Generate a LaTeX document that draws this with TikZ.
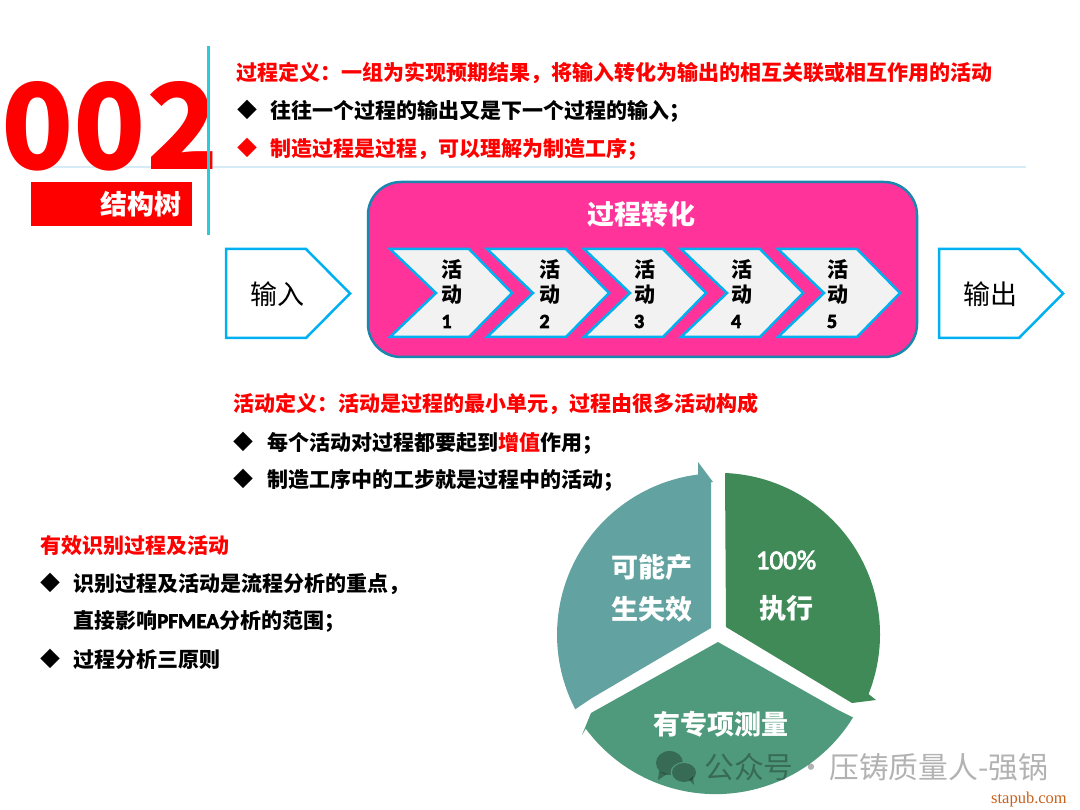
\documentclass[tikz,border=0pt]{standalone}
\usepackage{fontspec}
\usepackage{xcolor}
\setmainfont{Noto Sans CJK SC}
\newfontfamily\latinfont[FakeBold=3]{Carlito}
\newfontfamily\sitefont{Liberation Serif}
\usetikzlibrary{calc}
\definecolor{chevronblue}{RGB}{0, 176, 240}
\definecolor{boxpink}{RGB}{255, 51, 153}
\definecolor{boxedge}{RGB}{27, 135, 174}
\definecolor{barcyan}{RGB}{44, 203, 216}
\definecolor{ruleblue}{RGB}{214, 235, 245}
\definecolor{pieleft}{RGB}{98, 162, 160}
\definecolor{pieright}{RGB}{63, 138, 86}
\definecolor{piebottom}{RGB}{79, 154, 124}
\definecolor{siteorange}{RGB}{200, 96, 26}
\tikzset{
  headline/.style={anchor=west, inner sep=0pt, text=red, font=\bfseries\fontsize{21}{25}\selectfont},
  bodyline/.style={anchor=west, inner sep=0pt, text=black, font=\bfseries\fontsize{21}{25}\selectfont},
  bullet/.style={inner sep=0pt, font=\fontsize{20}{24}\selectfont},
  piece/.style={draw=chevronblue, line width=2.5pt, miter limit=6},
  pietext/.style={inner sep=0pt, text=white, font=\bfseries\fontsize{27}{32}\selectfont},
  activity/.style={align=left, inner sep=0pt, font=\bfseries\fontsize{21}{25}\selectfont},
  flowtext/.style={inner sep=0pt, font=\fontsize{27}{32}\selectfont}
}

\begin{document}
\begin{tikzpicture}[x=1pt, y=-1pt]
  \useasboundingbox (0,0) rectangle (1080,810);

  % left title block
  \draw[ruleblue, line width=2pt] (40,167.5) -- (1026,167.5);
  \node[inner sep=0pt, text=red, font=\bfseries\fontsize{119}{119}\selectfont] (number) at (110,126.5) {002};
  \fill[red] (31,182) rectangle (192,226);
  \node[inner sep=0pt, text=white, font=\bfseries\fontsize{27}{32}\selectfont] (tree) at (140.5,204) {结构树};
  \draw[barcyan, line width=3pt] (208.5,46) -- (208.5,235);

  % process definition
  \node[headline] (procdef) at (236,73) {过程定义：一组为实现预期结果，将输入转化为输出的相互关联或相互作用的活动};
  \node[bullet] (bulleta) at (247,110) {◆};
  \node[bodyline] (procone) at (270,111) {往往一个过程的输出又是下一个过程的输入；};
  \node[bullet, text=red] (bulletb) at (247,148) {◆};
  \node[bodyline, text=red] (proctwo) at (270,149) {制造过程是过程，可以理解为制造工序；};

  % flow in the middle
  \draw[boxedge, fill=boxpink, line width=2.5pt, rounded corners=33pt] (368,182) rectangle (917,357);
  \node[inner sep=0pt, text=white, font=\bfseries\fontsize{27}{32}\selectfont] (transform) at (641.5,214) {过程转化};
  \draw[piece, fill=white] (226,249) -- (306,249) -- (350,293.5) -- (306,338) -- (226,338) -- cycle;
  \node[flowtext] (input) at (277,294) {输入};
  \draw[piece, fill=white] (939,249) -- (1019,249) -- (1063,293.5) -- (1019,338) -- (939,338) -- cycle;
  \node[flowtext] (output) at (990,294) {输出};
  \foreach \n/\cx/\tx in {1/390/452, 2/487/550, 3/584/644.5, 4/681/741.5, 5/778/837.5} {
    \draw[piece, fill=black!5] (\cx,249) -- ++(79,0) -- ++(43,44) -- ++(-43,44) -- ++(-79,0) -- ++(46,-44) -- cycle;
    \node[activity] (act\n) at (\tx,294) {活\\动\\{\latinfont\fontsize{20}{25}\selectfont\n}};
  }

  % activity definition
  \node[headline] (actdef) at (233,404) {活动定义：活动是过程的最小单元，过程由很多活动构成};
  \node[bullet] (bulletc) at (243,442) {◆};
  \node[bodyline] (actone) at (267,443) {每个活动对过程都要起到\textcolor{red}{增值}作用；};
  \node[bullet] (bulletd) at (243,479) {◆};
  \node[bodyline] (acttwo) at (267,480) {制造工序中的工步就是过程中的活动；};

  % left list
  \node[headline] (identify) at (40,546) {有效识别过程及活动};
  \node[bullet] (bullete) at (51,583) {◆};
  \node[bodyline] (idone) at (73,584) {识别过程及活动是流程分析的重点，};
  \node[bodyline] (idtwo) at (73,621) {直接影响{\latinfont PFMEA}分析的范围；};
  \node[bullet] (bulletf) at (51,659) {◆};
  \node[bodyline] (idthree) at (73,660) {过程分析三原则};

  % the three pieces of the cycle
  \coordinate (hub) at (718.5,634);
  \fill[pieleft] (711,628) -- (711,482) -- (713,482) -- (698,462) -- (698,474.5) arc[start angle=97.3, end angle=207.5, radius=161.5pt] -- (592,698) -- cycle;
  \fill[pieright] (725,473) arc[start angle=87.7, end angle=-21.7, radius=161.5pt] -- (876,700) -- (852,703) -- (726,627) -- cycle;
  \fill[piebottom] (718,642) -- (838,710) -- (853,717.5) arc[start angle=-31.7, end angle=-143.5, radius=161.5pt] -- (582,735) -- (591,713) -- cycle;
  \node[pietext] (lefta) at (651.5,567) {可能产};
  \node[pietext] (leftb) at (651.5,609) {生失效};
  \node[inner sep=0pt, text=white, font=\latinfont\fontsize{27}{32}\selectfont] (righta) at (786,560) {100\%};
  \node[pietext] (rightb) at (786,608) {执行};
  \node[pietext] (bottom) at (720.5,724) {有专项测量};

  % watermark
  \begin{scope}[black, opacity=0.3]
    \fill (669.5,763) ellipse (13.5pt and 12pt);
    \fill (659,771) -- (658,780) -- (667,774) -- cycle;
  \end{scope}
  \fill[piebottom] (684,772.5) ellipse (13.5pt and 10.5pt);
  \begin{scope}[black, opacity=0.3]
    \fill (684,772.5) ellipse (12pt and 9.5pt);
    \fill (689,780) -- (694,785) -- (693,776) -- cycle;
  \end{scope}
  \node[inner sep=0pt, anchor=west, text=black, text opacity=0.3, font=\fontsize{29.8}{35}\selectfont] (mark) at (704,767) {公众号\hspace{3pt}·\hspace{3pt}压铸质量人-强锅};
  \node[inner sep=0pt, anchor=east, text=siteorange, font=\sitefont\fontsize{16.5}{18}\selectfont] (site) at (1067,800) {stapub.com};
\end{tikzpicture}
\end{document}
